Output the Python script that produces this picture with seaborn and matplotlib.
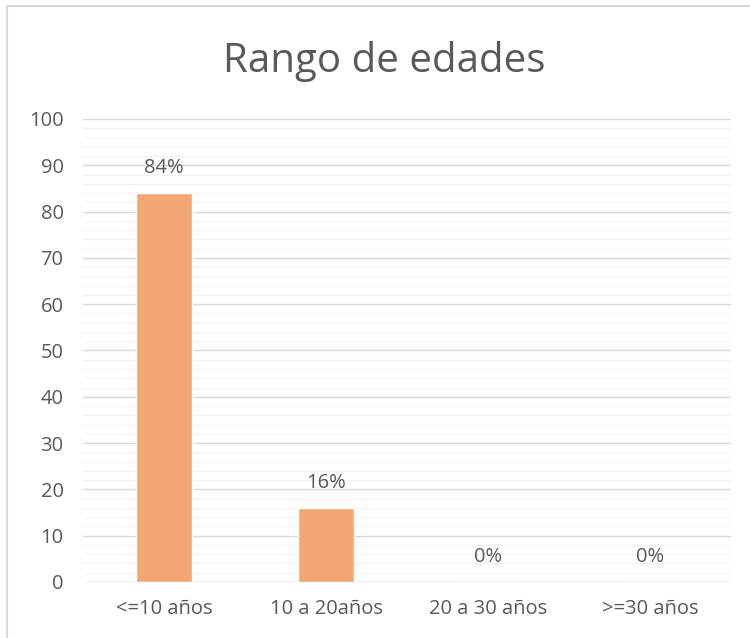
import matplotlib
matplotlib.use("Agg")
import matplotlib.pyplot as plt
import seaborn as sns
import pandas as pd
from matplotlib.ticker import MultipleLocator
from matplotlib.lines import Line2D

categories = ["<=10 años", "10 a 20años", "20 a 30 años", ">=30 años"]
values = [84, 16, 0, 0]
labels = ["84%", "16%", "0%", "0%"]
y_ticks = [0, 10, 20, 30, 40, 50, 60, 70, 80, 90, 100]

TEXT = "#595959"
BAR = "#F2A772"

sns.set_theme(style="white")
plt.rcParams["font.family"] = ["Open Sans", "DejaVu Sans"]

df = pd.DataFrame({"rango": categories, "valor": values})

fig = plt.figure(figsize=(7.5, 6.38), dpi=100)
ax = fig.add_axes([0.1107, 0.0878, 0.864, 0.7257])

sns.barplot(data=df, x="rango", y="valor", color=BAR, saturation=1,
            width=0.34, ax=ax, zorder=3)

ax.set_ylim(0, 100)
ax.set_xlim(-0.5, len(categories) - 0.5)
ax.set_yticks(y_ticks)
ax.yaxis.set_minor_locator(MultipleLocator(2))
ax.grid(axis="y", which="minor", color="#F2F2F2", linewidth=1.0, zorder=0)
ax.grid(axis="y", which="major", color="#D9D9D9", linewidth=1.0, zorder=1)
ax.set_axisbelow(True)
for s in ax.spines.values():
    s.set_visible(False)
ax.axhline(0, color="#D9D9D9", linewidth=1.0, zorder=2)

ax.set_xlabel("")
ax.set_ylabel("")
ax.tick_params(axis="both", which="both", length=0, colors=TEXT, labelsize=14.5)
ax.tick_params(axis="y", pad=14)
ax.tick_params(axis="x", pad=12)

for i, (v, lab) in enumerate(zip(values, labels)):
    ax.annotate(lab, xy=(i, v), xytext=(0, 11), textcoords="offset points",
                ha="center", va="bottom", fontsize=14.5, color=TEXT)

fig.text(0.512, 0.903, "Rango de edades", ha="center", va="center",
         fontsize=29, color=TEXT)

# light frame along the top and left edges
fig.add_artist(Line2D([0.0093, 0.0093], [0, 0.991], transform=fig.transFigure,
                      color="#D9D9D9", linewidth=1.5))
fig.add_artist(Line2D([0.0093, 1.0], [0.991, 0.991], transform=fig.transFigure,
                      color="#D9D9D9", linewidth=1.5))

fig.savefig("out.png", dpi=100, facecolor="white")
